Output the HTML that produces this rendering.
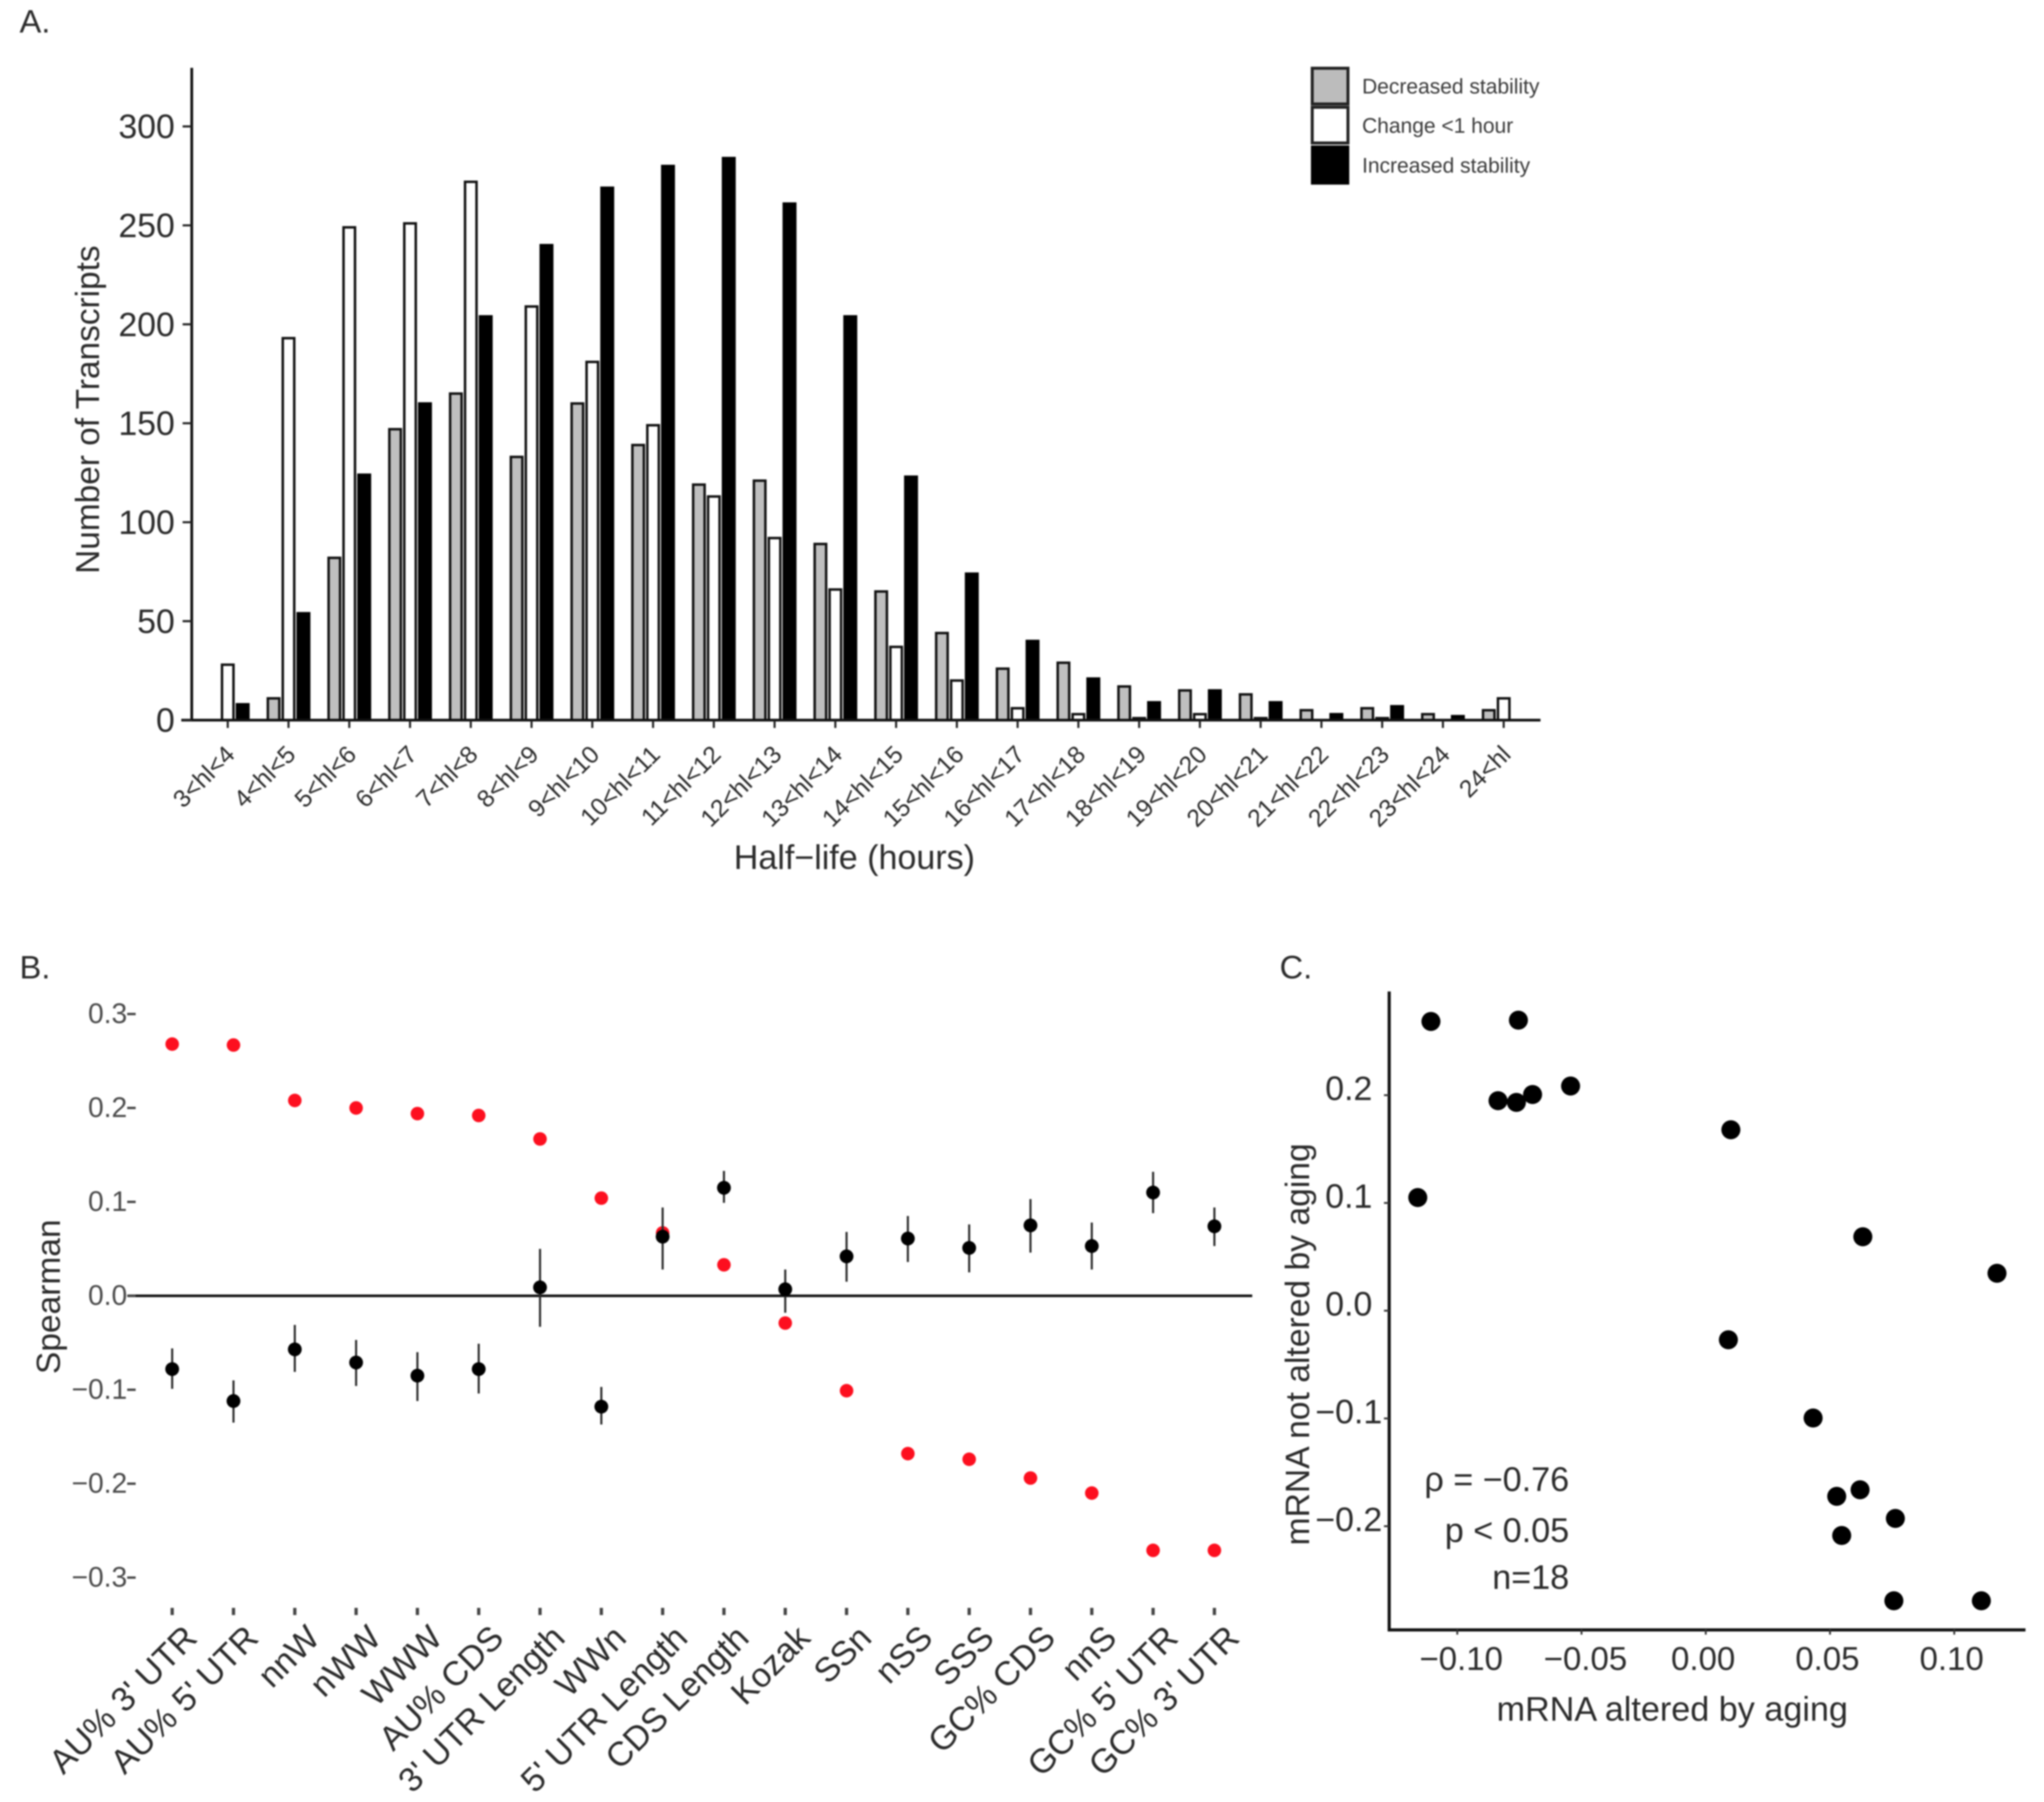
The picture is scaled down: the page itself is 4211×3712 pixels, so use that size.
<!DOCTYPE html>
<html lang="en">
<head>
<meta charset="utf-8">
<title>mRNA half-life and sequence features</title>
<style>
html,body{margin:0;padding:0;background:#fff;}
svg{display:block;filter:blur(1.5px);}
text{font-family:"Liberation Sans",sans-serif;fill:#2b2b2b;}
</style>
</head>
<body>
<svg id="fig" xmlns="http://www.w3.org/2000/svg" width="4211" height="3712" viewBox="0 0 1567 1381.3">
  <rect x="0" y="0" width="1567" height="1382" fill="#fff"/>

  <text x="15" y="25" font-size="25">A.</text>
  <text x="15" y="750" font-size="25">B.</text>
  <text x="981" y="750" font-size="25">C.</text>

  <g id="panel-a">
    <g id="a-bars"></g>
    <line x1="147" y1="52" x2="147" y2="552.5" stroke="#111" stroke-width="2.1"/>
    <line x1="139" y1="552" x2="1181" y2="552" stroke="#111" stroke-width="2.1"/>
    <g id="a-ticks"></g>
    <text transform="translate(76,314) rotate(-90)" text-anchor="middle" font-size="25.6">Number of Transcripts</text>
    <text x="655" y="666" text-anchor="middle" font-size="26.1">Half−life (hours)</text>
    <g>
      <rect x="1006" y="52.3" width="27.4" height="27.4" fill="#bcbcbc" stroke="#222" stroke-width="2.3"/>
      <rect x="1006" y="82.2" width="27.4" height="27.4" fill="#fff" stroke="#222" stroke-width="2.3"/>
      <rect x="1006" y="112.5" width="27.4" height="28" fill="#000" stroke="#000" stroke-width="2"/>
      <text x="1044.2" y="71.7" font-size="16.1" fill="#3a3a3a" style="fill:#3a3a3a">Decreased stability</text>
      <text x="1044.2" y="101.7" font-size="16.1" style="fill:#3a3a3a">Change &lt;1 hour</text>
      <text x="1044.2" y="132.2" font-size="16.1" style="fill:#3a3a3a">Increased stability</text>
    </g>
  </g>

  <g id="panel-b">
    <line x1="98" y1="993.3" x2="960" y2="993.3" stroke="#111" stroke-width="2"/>
    <g id="b-ticks"></g>
    <g id="b-red"></g>
    <g id="b-black"></g>
    <text transform="translate(46,994) rotate(-90)" text-anchor="middle" font-size="25.7">Spearman</text>
  </g>

  <g id="panel-c">
    <line x1="1065" y1="760" x2="1065" y2="1250.5" stroke="#111" stroke-width="2.4"/>
    <line x1="1064" y1="1249.4" x2="1552.8" y2="1249.4" stroke="#111" stroke-width="2.4"/>
    <g id="c-ticks"></g>
    <g id="c-points"></g>
    <text x="1203" y="1143" text-anchor="end" font-size="26.2">ρ = −0.76</text>
    <text x="1203" y="1182" text-anchor="end" font-size="26.2">p &lt; 0.05</text>
    <text x="1203" y="1218" text-anchor="end" font-size="26.2">n=18</text>
    <text x="1282" y="1319" text-anchor="middle" font-size="26.2">mRNA altered by aging</text>
    <text transform="translate(1003.6,1030.5) rotate(-90)" text-anchor="middle" font-size="25.8">mRNA not altered by aging</text>
  </g>
</svg>
<script>
// Panel A data
const aCategories = ["3<hl<4","4<hl<5","5<hl<6","6<hl<7","7<hl<8","8<hl<9","9<hl<10","10<hl<11","11<hl<12","12<hl<13","13<hl<14","14<hl<15","15<hl<16","16<hl<17","17<hl<18","18<hl<19","19<hl<20","20<hl<21","21<hl<22","22<hl<23","23<hl<24","24<hl"];
const aDecreased = [0,11,82,147,165,133,160,139,119,121,89,65,44,26,29,17,15,13,5,6,3,5];
const aChange = [28,193,249,251,272,209,181,149,113,92,66,37,20,6,3,1,3,1,0,1,0,11];
const aIncreased = [8,54,124,160,204,240,269,280,284,261,204,123,74,40,21,9,15,9,3,7,2,0];
const aYTicks = [0,50,100,150,200,250,300];

// Panel B data
const bCategories = ["AU% 3' UTR","AU% 5' UTR","nnW","nWW","WWW","AU% CDS","3' UTR Length","WWn","5' UTR Length","CDS Length","Kozak","SSn","nSS","SSS","GC% CDS","nnS","GC% 5' UTR","GC% 3' UTR"];
const bAltered = [0.268,0.267,0.208,0.2,0.194,0.192,0.167,0.104,0.067,0.033,-0.029,-0.101,-0.168,-0.174,-0.194,-0.21,-0.271,-0.271];
const bNotAltered = [-0.078,-0.112,-0.057,-0.071,-0.085,-0.078,0.009,-0.118,0.063,0.115,0.007,0.042,0.061,0.051,0.075,0.053,0.11,0.074];
const bErrHigh = [-0.056,-0.09,-0.031,-0.047,-0.06,-0.051,0.05,-0.097,0.094,0.133,0.028,0.068,0.085,0.076,0.103,0.078,0.132,0.094];
const bErrLow = [-0.099,-0.135,-0.081,-0.096,-0.112,-0.104,-0.033,-0.137,0.028,0.099,-0.018,0.015,0.036,0.025,0.046,0.028,0.088,0.053];
const bYTicks = [0.3,0.2,0.1,0,-0.1,-0.2,-0.3];
const bYTickLabels = ["0.3","0.2","0.1","0.0","−0.1","−0.2","−0.3"];

// Panel C data
const cAltered = [-0.1106,-0.0754,-0.0836,-0.0762,-0.0697,-0.0544,0.0101,-0.1159,0.0632,0.1172,0.0091,0.0432,0.0527,0.0621,0.0763,0.0547,0.0757,0.1109];
const cNotAltered = [0.2684,0.2696,0.1949,0.1933,0.2006,0.2085,0.1679,0.105,0.0686,0.0347,-0.027,-0.0996,-0.1723,-0.1662,-0.1928,-0.2086,-0.2692,-0.2692];
const cXTicks = [-0.1,-0.05,0,0.05,0.1];
const cXTickLabels = ["−0.10","−0.05","0.00","0.05","0.10"];
const cYTicks = [0.2,0.1,0,-0.1,-0.2];
const cYTickLabels = ["0.2","0.1","0.0","−0.1","−0.2"];

const NS = "http://www.w3.org/2000/svg";
function mk(parent, tag, attrs, txt) {
  const el = document.createElementNS(NS, tag);
  for (const k in attrs) el.setAttribute(k, attrs[k]);
  if (txt !== undefined) el.textContent = txt;
  parent.appendChild(el);
  return el;
}
const $ = id => document.getElementById(id);

// Axis functions
const xA = i => 174.6 + i * 46.58;
const yA = v => 552 - v * 1.517;
const xB = i => 132 + i * 47;
const yB = v => 993.3 - v * 720;
const xC = v => 1307.7 + v * 1905;
const yC = v => 1004.7 - v * 826;

// Panel A bars
const aSeries = [
  {key: "decreased", values: aDecreased, off: -11.45, fill: "#bfbfbf"},
  {key: "change", values: aChange, off: 0, fill: "#fff"},
  {key: "increased", values: aIncreased, off: 11.45, fill: "#000"}
];
aSeries.forEach(s => {
  s.values.forEach((v, i) => {
    if (v <= 0) return;
    const y = yA(v);
    const bar = mk($("a-bars"), "rect", {x: xA(i) + s.off - 4.4, y: y, width: 8.8, height: 552 - y, fill: s.fill, stroke: s.key === "increased" ? "#000" : "#111", "stroke-width": 1.9});
    
    
  });
});

// Panel A ticks
aYTicks.forEach(t => {
  const tick = mk($("a-ticks"), "line", {x1: 140, x2: 147, y1: yA(t), y2: yA(t), stroke: "#222", "stroke-width": 1.6});
  
  
  const lab = mk($("a-ticks"), "text", {x: 134, y: yA(t) + 9, "text-anchor": "end", "font-size": 25.9}, String(t));
  
  
});
aCategories.forEach((c, i) => {
  const x = xA(i);
  const tick = mk($("a-ticks"), "line", {x1: x, x2: x, y1: 552, y2: 558, stroke: "#222", "stroke-width": 1.6});
  
  
  const lab = mk($("a-ticks"), "text", {transform: "translate(" + (x + 6.5) + ",579.5) rotate(-45)", "text-anchor": "end", "font-size": 18.8}, c);
  
  
});

// Panel B ticks
bYTicks.forEach((t, i) => {
  const tick = mk($("b-ticks"), "line", {x1: 97.5, x2: 104, y1: yB(t), y2: yB(t), stroke: "#444", "stroke-width": 1.8});
  
  
  const lab = mk($("b-ticks"), "text", {x: 97.5, y: yB(t) + 6.9, "text-anchor": "end", "font-size": 21.6, style: "fill:#4a4a4a"}, bYTickLabels[i]);
  
  
});
bCategories.forEach((c, i) => {
  const x = xB(i);
  const tick = mk($("b-ticks"), "line", {x1: x, x2: x, y1: 1232.5, y2: 1238, stroke: "#444", "stroke-width": 2.5});
  
  
  const lab = mk($("b-ticks"), "text", {transform: "translate(" + (x + 20.5) + ",1257) rotate(-45)", "text-anchor": "end", "font-size": 26.1}, c);
  
  
});

// Panel B marks
bAltered.forEach((v, i) => {
  const dot = mk($("b-red"), "circle", {cx: xB(i), cy: yB(v), r: 5.2, fill: "#fd0f1f"});
  
  
});
bNotAltered.forEach((v, i) => {
  const err = mk($("b-black"), "line", {x1: xB(i), x2: xB(i), y1: yB(bErrHigh[i]), y2: yB(bErrLow[i]), stroke: "#2a2a2a", "stroke-width": 1.6});
  
  
  const dot = mk($("b-black"), "circle", {cx: xB(i), cy: yB(v), r: 5.3, fill: "#000"});
  
  
});

// Panel C ticks
cXTicks.forEach((t, i) => {
  const tick = mk($("c-ticks"), "line", {x1: xC(t), x2: xC(t), y1: 1249, y2: 1253, stroke: "#333", "stroke-width": 1.4});
  
  
  const lab = mk($("c-ticks"), "text", {x: xC(t) + (t < 0 ? 3 : -2), y: 1280, "text-anchor": "middle", "font-size": 25.3}, cXTickLabels[i]);
  
  
});
cYTicks.forEach((t, i) => {
  const tick = mk($("c-ticks"), "line", {x1: 1061, x2: 1065, y1: yC(t), y2: yC(t), stroke: "#333", "stroke-width": 1.4});
  
  
  const lab = mk($("c-ticks"), "text", {x: 1034, y: yC(t) + 3.8, "text-anchor": "middle", "font-size": 26}, cYTickLabels[i]);
  
  
});

// Panel C marks
cAltered.forEach((v, i) => {
  const dot = mk($("c-points"), "circle", {cx: xC(v), cy: yC(cNotAltered[i]), r: 7.3, fill: "#000"});
  
  
});
</script>
</body>
</html>
